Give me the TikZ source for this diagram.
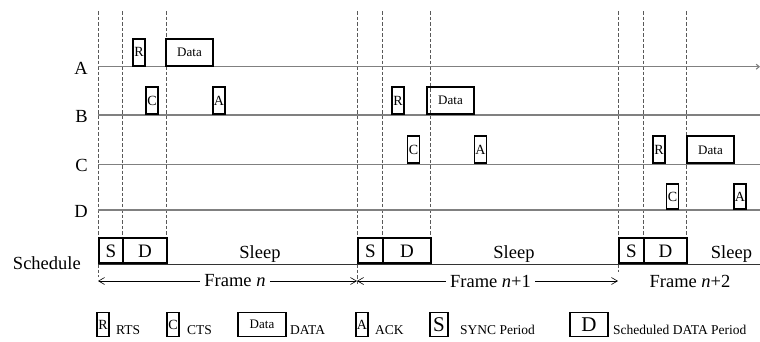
\documentclass[tikz,border=0pt]{standalone}
\usepackage{fontspec}
\setmainfont{Liberation Serif}
\usetikzlibrary{arrows.meta}
\begin{document}
\begin{tikzpicture}[x=1pt,y=-1pt,
  pkt/.style={draw=black,line width=1.9pt,minimum width=12pt,minimum height=27pt,
    inner sep=0pt,anchor=south,font=\fontsize{14}{14}\selectfont},
  databox/.style={pkt,minimum width=47pt,font=\fontsize{13}{13}\selectfont},
  sched/.style={draw=black,line width=1.9pt,minimum height=25pt,inner sep=0pt,
    anchor=south west,font=\fontsize{19}{19}\selectfont},
  row/.style={draw=black!50,line width=1.1pt},
  guide/.style={draw=black!65,line width=0.7pt,dash pattern=on 3.5pt off 2pt},
  big/.style={font=\fontsize{18.5}{18.5}\selectfont,inner sep=0pt},
  rowlbl/.style={big,anchor=base east},
  frm/.style={-{Straight Barb[length=6pt,width=7pt]},line width=0.6pt},
  legbox/.style={pkt,minimum height=24pt,anchor=center},
  legbig/.style={legbox,font=\fontsize{21}{21}\selectfont},
  leg/.style={font=\fontsize{13.5}{13.5}\selectfont,inner sep=0pt,anchor=base west},
]
\useasboundingbox (0,0) rectangle (760,341);

% ---- frame boundaries (dashed guides) ----
\foreach \x/\b in {98/277,357/285,618/272}{
  \coordinate (gt\x) at (\x,11);
  \coordinate (gb\x) at (\x,\b);
  \draw[guide] (gt\x) -- (gb\x);
}
\foreach \x in {122,166,382,430,643,686}{
  \coordinate (gt\x) at (\x,11);
  \coordinate (gb\x) at (\x,239);
  \draw[guide] (gt\x) -- (gb\x);
}

% ---- node time lines ----
\coordinate (a0) at (98,66.7);  \coordinate (a1) at (760,66.7);
\coordinate (b0) at (98,115);   \coordinate (b1) at (760,115);
\coordinate (c0) at (98,164.3); \coordinate (c1) at (760,164.3);
\coordinate (d0) at (98,210);   \coordinate (d1) at (760,210);
\coordinate (s0) at (98,264.3); \coordinate (s1) at (760,264.3);
\draw[row,-{Straight Barb[length=3pt,width=5pt]}] (a0) -- (a1);
\draw[row] (b0) -- (b1);
\draw[row] (c0) -- (c1);
\draw[row] (d0) -- (d1);
\draw[draw=black!80,line width=1.1pt] (s0) -- (s1);

% ---- row labels ----
\node[rowlbl] (la) at (88,74) {A};
\node[rowlbl] (lb) at (88,122) {B};
\node[rowlbl] (lc) at (88,171.5) {C};
\node[rowlbl] (ld) at (88,217) {D};
\node[rowlbl] (ls) at (81,269.5) {Schedule};

% ---- frame n: A -> B ----
\node[pkt] (r1) at (139,66.7) {R};
\node[databox] (dt1) at (189.5,66.7) {Data};
\node[pkt] (c1b) at (152,115) {C};
\node[pkt] (k1) at (219,115) {A};

% ---- frame n+1: B -> C ----
\node[pkt] (r2) at (398,115) {R};
\node[databox] (dt2) at (450.5,115) {Data};
\node[pkt] (c2b) at (413.5,164.3) {C};
\node[pkt] (k2) at (480.5,164.3) {A};

% ---- frame n+2: C -> D ----
\node[pkt] (r3) at (659,164.3) {R};
\node[databox] (dt3) at (710.5,164.3) {Data};
\node[pkt,minimum height=25pt] (c3b) at (672.5,210) {C};
\node[pkt,minimum height=25pt] (k3) at (740,210) {A};

% ---- schedule ----
\node[sched,minimum width=24pt] (sy1) at (98,264.3) {S};
\node[sched,minimum width=44pt] (sd1) at (122,264.3) {D};
\node[sched,minimum width=25pt] (sy2) at (357,264.3) {S};
\node[sched,minimum width=48pt] (sd2) at (382,264.3) {D};
\node[sched,minimum width=25pt] (sy3) at (618,264.3) {S};
\node[sched,minimum width=43pt] (sd3) at (643,264.3) {D};
\node[big,anchor=base] (sl1) at (260,258) {Sleep};
\node[big,anchor=base] (sl2) at (514,258) {Sleep};
\node[big,anchor=base] (sl3) at (731.5,258) {Sleep};

% ---- frame spans ----
\coordinate (f0) at (98,281);
\coordinate (f1) at (357,281);
\coordinate (f2) at (618,281);
\node[big,inner sep=4pt] (fn1) at (235,281) {Frame \textit{n}};
\node[big,inner sep=4pt] (fn2) at (490.5,281) {Frame \textit{n}+1};
\node[big,inner sep=4pt] (fn3) at (690,281) {Frame \textit{n}+2};
\draw[frm] (fn1.west) -- (f0);
\draw[frm] (fn1.east) -- (f1);
\draw[frm] (fn2.west) -- (f1);
\draw[frm] (fn2.east) -- (f2);

% ---- legend ----
\node[legbox] (kr) at (103,324.5) {R};
\node[leg] (tr) at (116,334) {RTS};
\node[legbox] (kc) at (173,324.5) {C};
\node[leg] (tc) at (187,334) {CTS};
\node[legbox,minimum width=48pt,font=\fontsize{13}{13}\selectfont] (kd) at (262,324.5) {Data};
\node[leg] (td) at (290,334) {DATA};
\node[legbox] (ka) at (362,324.5) {A};
\node[leg] (ta) at (375,334) {ACK};
\node[legbig,minimum width=18pt] (ks) at (439,324.5) {S};
\node[leg] (ts) at (460,334) {SYNC Period};
\node[legbig,minimum width=38pt] (kdp) at (589,324.5) {D};
\node[leg] (tdp) at (613,334) {Scheduled DATA Period};
\end{tikzpicture}
\end{document}
